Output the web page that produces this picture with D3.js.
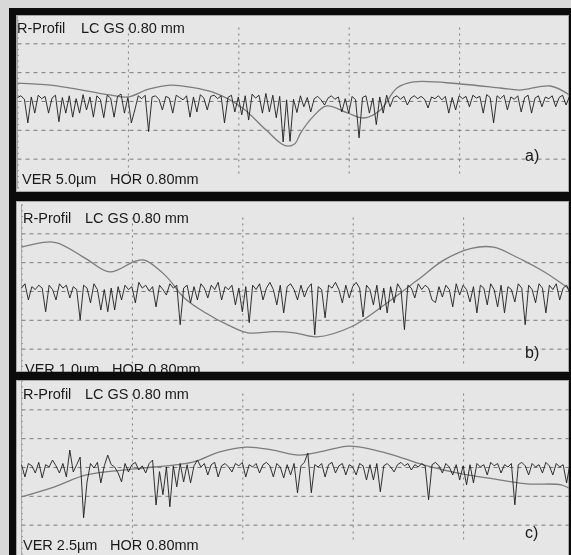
<!DOCTYPE html>
<html>
<head>
<meta charset="utf-8">
<script src="https://cdn.jsdelivr.net/npm/d3@7"></script>
<style>
	body { margin: 0; background: #d8d8d8; }
	svg { display: block; font-family: 'Liberation Sans', Arial, sans-serif; }
</style>
</head>
<body>
<svg id="chart"></svg>
<script>
// Sampling step of the roughness profile along the trace, in mm.
const stepMm = 0.025;

// R-profile heights (µm), one value per step.
const profileA = [
	0.6, 0.9, 0.3, -3.8, 0.7, -2.1, 1.0, 0.4, 0.8, -2.1,
	0.5, 1.0, -3.6, 0.6, -2.1, 0.9, -2.8, 0.4, -2.1, 1.1,
	-1.55, 0.7, -2.8, 0.9, 0.3, -2.9, 1.0, 0.5, -2.8, 0.8,
	1.2, -2.1, 0.6, -3.8, -1.55, 0.9, 0.4, 1.0, -5.3, 0.7,
	0.9, 0.3, -1.55, 0.8, 0.5, -2.1, 1.0, 0.6, 0.2, 0.9,
	-2.8, 0.7, -1.9, 1.1, 0.5, -1.55, 0.8, 1.0, 0.4, 0.9,
	-3.8, 0.6, 1.0, -1.9, 0.7, -2.4, 0.9, -3.3, 1.2, 0.5,
	1.0, -2.1, 1.3, -1.9, 1.0, -2.9, 0.8, -7.1, 0.2, -7.0,
	0.3, -2.0, 0.9, -1.0, 0.6, -1.9, 0.4, 0.8, 0.2, -0.7,
	0.5, 0.9, 0.3, 0.7, -1.9, 0.4, -2.1, 0.8, 0.2, -6.4,
	0.6, 0.9, -2.1, 0.5, -4.1, 0.7, -2.1, 1.0, -1.0, 0.6,
	0.9, 0.3, 0.8, -0.7, 0.5, 0.9, 0.4, 0.8, 0.3, -1.2,
	0.7, 0.4, 0.9, 0.2, 0.8, -2.1, 0.6, -1.55, 0.9, 0.4,
	0.8, -1.0, 1.0, 0.5, 0.8, -2.1, 1.1, 0.6, -3.8, 0.9,
	0.4, 1.0, -1.55, 0.7, 0.3, 0.9, -1.9, 0.6, 1.0, -2.1,
	0.5, 0.9, -1.0, 0.7, 0.4, 0.9, -1.0, 0.6, 1.0, -0.7,
	0.8,
];
const profileB = [
	0.1, 0.25, -0.31, 0.15, 0.05, 0.2, 0.1, -0.72, 0.2, 0.05,
	-0.31, 0.25, 0.1, 0.2, -0.24, 0.15, 0.05, -1.0, 0.2, 0.1,
	-0.41, 0.25, 0.05, -0.66, 0.05, -0.72, 0.1, -0.66, 0.15, -0.31,
	0.2, 0.05, 0.15, -0.41, 0.3, 0.1, 0.2, 0.0, 0.15, -0.55,
	0.2, 0.05, -0.14, 0.25, 0.1, 0.2, -1.17, 0.1, 0.2, -0.41,
	0.15, -0.31, 0.25, 0.1, -0.24, 0.2, 0.05, 0.3, -0.31, 0.15,
	0.05, 0.2, -0.48, 0.1, -0.72, 0.15, -1.1, 0.2, 0.05, 0.25,
	-0.31, 0.1, 0.3, 0.05, -0.48, 0.2, -0.76, 0.15, 0.25, 0.05,
	-0.31, 0.2, -0.21, 0.1, 0.25, -1.52, 0.15, 0.05, -0.93, 0.2,
	0.1, 0.3, 0.05, -0.41, 0.2, -0.24, 0.15, 0.3, 0.1, -0.9,
	0.2, 0.05, -0.48, 0.2, -0.66, 0.1, -0.76, 0.15, -0.41, 0.25,
	0.05, -1.34, 0.2, 0.1, -0.24, 0.25, 0.05, 0.2, 0.1, -0.31,
	-0.4, 0.15, -0.21, 0.2, 0.05, -0.55, 0.25, -0.14, 0.2, 0.05,
	-0.38, 0.15, -0.76, 0.2, 0.1, -0.48, 0.25, 0.05, -0.55, 0.2,
	-0.76, 0.15, 0.05, -0.38, 0.25, 0.1, -1.17, 0.2, 0.05, -0.41,
	0.25, 0.1, -0.76, 0.2, 0.05, 0.25, -0.31, 0.1, 0.2, -0.1,
	0.15,
];
const profileC = [
	0.2, -0.86, 0.3, 0.1, -0.52, 0.4, -0.95, 0.2, 0.0, 0.6,
	0.1, -0.52, 0.3, -0.86, 1.47, -0.43, 0.2, 0.86, -4.4, -1.29,
	0.3, -0.09, 0.4, -1.38, 0.1, 1.03, 0.2, 0.0, -0.52, -1.29,
	0.3, -0.43, 0.2, 0.4, -0.26, 0.1, -0.52, 0.3, 0.6, -3.3,
	-0.4, -2.4, 0.0, -3.45, 0.1, -1.72, 0.3, -1.29, 0.2, -1.38,
	0.1, 0.6, 0.0, 0.3, -0.69, 0.2, 0.4, -0.86, 0.1, 0.3,
	0.0, -0.43, 0.3, 0.1, 0.4, -0.86, 0.2, 0.0, 0.3, -0.52,
	0.2, 0.4, 0.1, -0.86, 0.3, 0.0, -0.95, 0.2, -0.69, 0.3,
	-2.24, 0.1, 0.4, 1.2, -2.24, 0.2, 0.0, 0.3, -0.86, 0.2,
	0.4, -0.52, 0.1, 0.3, -0.69, 0.2, 0.0, -0.69, 0.3, 0.1,
	-1.12, 0.2, -1.12, 0.3, -2.15, 0.1, 0.3, 0.0, -0.43, 0.2,
	0.4, 0.1, 0.3, -0.26, 0.2, 0.0, 0.3, 0.1, -2.84, 0.2,
	0.4, 0.1, -0.52, 0.3, 0.0, -0.69, 0.2, -1.12, 0.1, -1.55,
	0.2, -1.38, 0.3, 0.0, 0.2, -0.69, 0.4, 0.1, 0.3, -0.52,
	0.2, 0.0, 0.3, -3.28, 0.2, 0.4, 0.1, -0.69, 0.3, 0.0,
	0.2, -0.52, 0.4, 0.1, -0.69, 0.3, 0.0, 0.2, -1.38, 0.3,
	0.1,
];

// Filter mean line (LC GS 0.80 mm): [position mm, height µm].
const meanA = [
	[0, 3.1], [0.24, 2.75], [0.47, 1.9], [0.67, 1.05], [0.8, 0.7],
	[0.95, 2.05], [1.11, 2.75], [1.25, 2.4], [1.43, 1.4], [1.63, -1.2],
	[1.8, -5.0], [1.94, -7.75], [2.01, -7.4], [2.05, -5.6], [2.14, -2.75],
	[2.24, -0.85], [2.39, -2.05], [2.51, -2.95], [2.63, -1.55], [2.75, 2.25],
	[2.87, 3.3], [3.21, 2.95], [3.5, 2.25], [3.64, 1.9], [3.86, 2.6],
	[4.0, 1.05],
];
const meanB = [
	[0, 1.52], [0.24, 1.69], [0.46, 1.14], [0.64, 0.66], [0.82, 1.03],
	[0.89, 1.07], [1.04, 0.55], [1.18, -0.24], [1.32, -0.72], [1.51, -1.21],
	[1.64, -1.45], [1.83, -1.41], [1.98, -1.45], [2.14, -1.59], [2.39, -1.24],
	[2.63, -0.48], [2.87, 0.38], [3.06, 1.07], [3.26, 1.48], [3.42, 1.52],
	[3.59, 1.17], [3.79, 0.66], [3.95, 0.14], [4.0, -0.03],
];
const meanC = [
	[0, -2.59], [0.24, -1.72], [0.47, -0.69], [0.82, -0.17], [1.24, 0.43],
	[1.43, 1.29], [1.63, 1.72], [1.82, 1.47], [2.01, 1.03], [2.19, 1.38],
	[2.37, 1.81], [2.56, 1.47], [2.74, 0.86], [2.94, 0.09], [3.19, -0.6],
	[3.42, -1.03], [3.66, -1.47], [3.91, -1.55], [4.0, -2.07],
];

// Scale settings and captions of the three recordings.
const panelKeys = ['a)', 'b)', 'c)'];
const verScale = [5.0, 1.0, 2.5]; // µm per vertical division
const horScale = 0.8; // mm per horizontal division
const headerText = ['R-Profil', 'LC GS 0.80 mm'];
const verLabels = ['VER 5.0µm', 'VER 1.0µm', 'VER 2.5µm'];
const horLabel = 'HOR 0.80mm';

const profiles = [profileA, profileB, profileC];
const means = [meanA, meanB, meanC];

// Page layout (pixels) of each panel.
const width = 571;
const height = 555;
const layout = [
	{ top: 15, bottom: 192, y0: 14.5, x0: 17.5, tx: 17, lx: 81, vx: 22, hx: 110, kx: 525, ky: 161 },
	{ top: 201, bottom: 372, y0: 204.5, x0: 21.5, tx: 23, lx: 85, vx: 25, hx: 112, kx: 525, ky: 358 },
	{ top: 380, bottom: 560, y0: 380.5, x0: 21.5, tx: 23, lx: 85, vx: 23, hx: 110, kx: 525, ky: 538 },
];
const divPx = 110.4;
const divPy = 28.83;

const svg = d3.select('#chart').attr('width', width).attr('height', height);

// Black frame holding the three recordings.
svg.append('rect').attr('x', 9).attr('y', 8).attr('width', width).attr('height', height).attr('fill', '#0b0b0b');

const defs = svg.append('defs');
// The source is a scan: soften the traces a little.
defs.append('filter').attr('id', 'soft').append('feGaussianBlur').attr('stdDeviation', 0.55);

panelKeys.forEach((key, p) => {
	const L = layout[p];
	const ver = verScale[p];

	const x = d3
		.scaleLinear()
		.domain([0, 5 * horScale])
		.range([L.x0, L.x0 + 5 * divPx]);
	const y = d3
		.scaleLinear()
		.domain([3 * ver, -3 * ver])
		.range([L.y0, L.y0 + 6 * divPy]);

	defs
		.append('clipPath')
		.attr('id', 'clip' + p)
		.append('rect')
		.attr('x', 16)
		.attr('y', L.top)
		.attr('width', 553)
		.attr('height', L.bottom - L.top);

	const g = svg.append('g').attr('clip-path', `url(#clip${p})`);

	g.append('rect')
		.attr('x', 16.5)
		.attr('y', L.top + 0.5)
		.attr('width', 552)
		.attr('height', L.bottom - L.top - 1)
		.attr('fill', '#e6e6e6')
		.attr('stroke', '#a8a8a8');

	const plot = g.append('g').attr('filter', 'url(#soft)');

	// Horizontal dashed grid.
	plot
		.append('g')
		.attr('transform', `translate(${L.x0},0)`)
		.call(
			d3
				.axisLeft(y)
				.tickValues([2, 1, 0, -1, -2].map((k) => k * ver))
				.tickSize(-5 * divPx)
				.tickFormat('')
		)
		.call((s) => s.select('.domain').remove())
		.selectAll('line')
		.attr('stroke', '#7a7a7a')
		.attr('stroke-dasharray', '4,4');

	// Vertical dotted grid.
	plot
		.append('g')
		.attr('transform', `translate(0,${L.y0 + 13})`)
		.call(
			d3
				.axisBottom(x)
				.tickValues([1, 2, 3, 4].map((k) => k * horScale))
				.tickSize(146)
				.tickFormat('')
		)
		.call((s) => s.select('.domain').remove())
		.selectAll('line')
		.attr('stroke', '#7a7a7a')
		.attr('stroke-dasharray', '2,4');

	// Small ticks on the left edge.
	plot
		.append('g')
		.attr('transform', `translate(${L.x0 - 0.5},0)`)
		.call(
			d3
				.axisRight(y)
				.tickValues(d3.range(-15, 16).map((k) => (k * ver) / 5))
				.tickSize(2)
				.tickFormat('')
		)
		.call((s) => s.select('.domain').attr('stroke', '#aaa'))
		.selectAll('line')
		.attr('stroke', '#999');

	// Mean line.
	plot
		.append('path')
		.datum(means[p])
		.attr('fill', 'none')
		.attr('stroke', '#7c7c7c')
		.attr('stroke-width', 1.3)
		.attr(
			'd',
			d3
				.line()
				.x((d) => x(d[0]))
				.y((d) => y(d[1]))
				.curve(d3.curveCatmullRom)
		);

	// Roughness profile.
	plot
		.append('path')
		.datum(profiles[p])
		.attr('fill', 'none')
		.attr('stroke', '#1c1c1c')
		.attr('stroke-width', 0.9)
		.attr('stroke-linejoin', 'miter')
		.attr('stroke-miterlimit', 20)
		.attr(
			'd',
			d3
				.line()
				.x((d, i) => x(i * stepMm))
				.y((d) => y(d))
		);

	const text = g.append('g').attr('fill', '#1a1a1a').style('font-size', '14.5px');
	text.append('text').attr('x', L.tx).attr('y', L.y0 + 18).text(headerText[0]);
	text.append('text').attr('x', L.lx).attr('y', L.y0 + 18).text(headerText[1]);
	text.append('text').attr('x', L.vx).attr('y', L.y0 + 169).text(verLabels[p]);
	text.append('text').attr('x', L.hx).attr('y', L.y0 + 169).text(horLabel);
	text.append('text').attr('x', L.kx).attr('y', L.ky).style('font-size', '16px').text(key);
});
</script>
</body>
</html>
